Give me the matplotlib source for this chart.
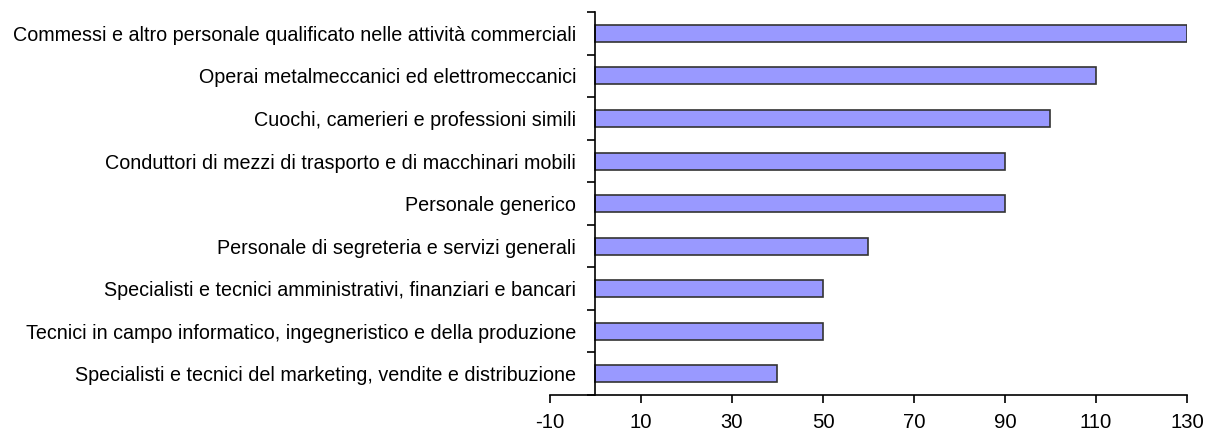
import matplotlib
matplotlib.use('Agg')
import matplotlib.pyplot as plt
import numpy as np

categories = [
    'Commessi e altro personale qualificato nelle attività commerciali',
    'Operai metalmeccanici ed elettromeccanici',
    'Cuochi, camerieri e professioni simili',
    'Conduttori di mezzi di trasporto e di macchinari mobili',
    'Personale generico',
    'Personale di segreteria e servizi generali',
    'Specialisti e tecnici amministrativi, finanziari e bancari',
    'Tecnici in campo informatico, ingegneristico e della produzione',
    'Specialisti e tecnici del marketing, vendite e distribuzione',
]
values = [130, 110, 100, 90, 90, 60, 50, 50, 40]
xticks = [-10, 10, 30, 50, 70, 90, 110, 130]

plt.rcParams['font.family'] = ['Liberation Sans', 'DejaVu Sans']

fig = plt.figure(figsize=(12.05, 4.32), dpi=100)
ax = fig.add_axes([0.4564, 0.0856, 0.985 - 0.4564, 0.972 - 0.0856])

y = np.arange(len(categories))
ax.barh(y, values, height=0.4, color='#9999FF', edgecolor='#333333', linewidth=1.2)

ax.set_xlim(-10, 130)
ax.set_ylim(len(categories) - 0.5, -0.5)
ax.set_xticks(xticks)
ax.set_xticklabels([str(v) for v in xticks])

ax.set_yticks(y)
ax.set_yticklabels(categories)
ax.set_yticks(np.arange(len(categories) + 1) - 0.5, minor=True)
ax.tick_params(axis='y', which='major', length=0, pad=14, labelsize=14.2)
ax.tick_params(axis='y', which='minor', length=6, width=1.2, direction='out')
ax.tick_params(axis='x', length=6, width=1.2, direction='out', pad=7, labelsize=14.6)

ax.spines['left'].set_position(('data', 0))
ax.spines['right'].set_visible(False)
ax.spines['top'].set_visible(False)
ax.spines['left'].set_linewidth(1.2)
ax.spines['bottom'].set_linewidth(1.2)

fig.savefig('out.png', dpi=100)
